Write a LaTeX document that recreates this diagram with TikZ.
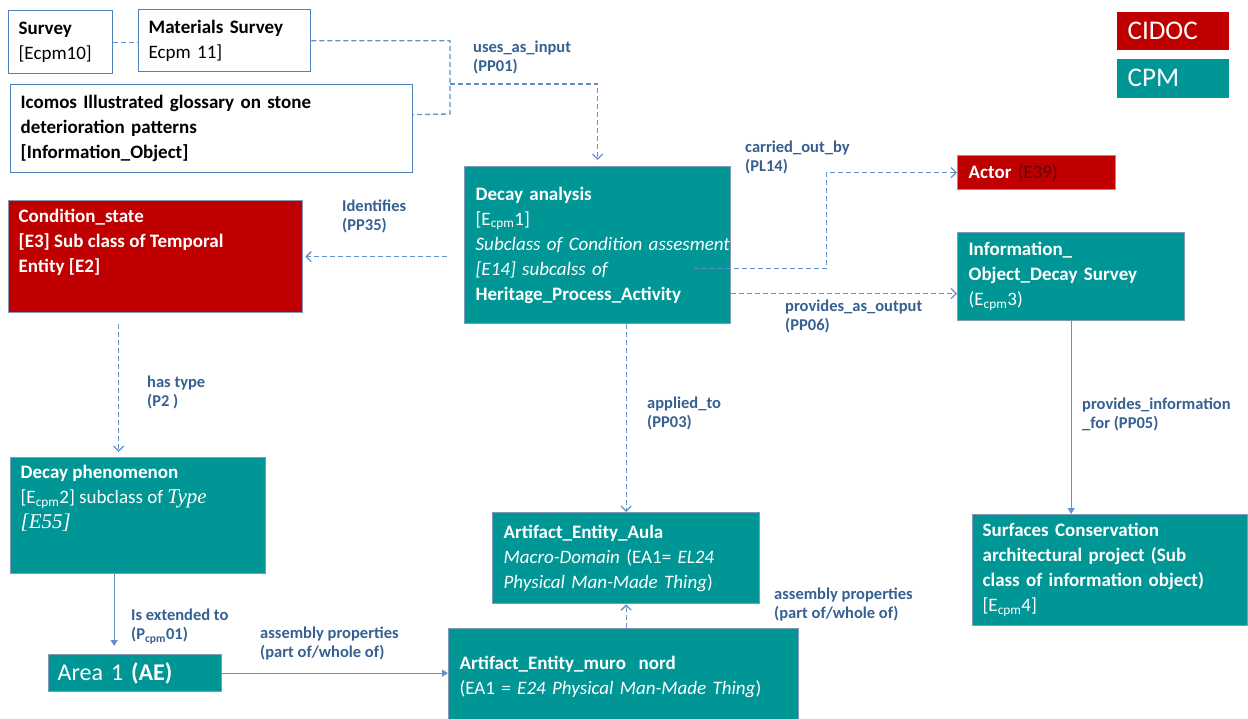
\documentclass[tikz,border=0pt]{standalone}
\usepackage{fontspec}
\setmainfont{Carlito}
\newfontfamily\timesfont{Liberation Serif}
\usepackage{tikz}
\usetikzlibrary{arrows.meta,positioning,calc}
\definecolor{cpmteal}{RGB}{0,150,150}
\definecolor{cidocred}{RGB}{192,0,0}
\definecolor{edgegray}{RGB}{130,152,182}
\definecolor{boxblue}{RGB}{79,129,189}
\definecolor{linkblue}{RGB}{100,145,200}
\definecolor{labelblue}{RGB}{54,96,146}
\definecolor{actorcode}{RGB}{100,0,0}
\newcommand{\bodyfont}{\fontsize{19}{25}\selectfont}
\newcommand{\lblfont}{\fontsize{16.5}{19}\selectfont\bfseries}
\newcommand{\bigfont}{\fontsize{24}{29}\selectfont}
\newcommand{\cpm}{\textsubscript{cpm}}
\newcommand{\toptext}[3]{\parbox[c][#2][t]{#1}{#3}}
\tikzstyle{whitebox} = [rectangle, anchor=north west, align=left, draw=boxblue, fill=white, line width=1.3pt, inner xsep=10pt, inner ysep=4pt, font=\bodyfont]
\tikzstyle{cpmbox} = [rectangle, anchor=north west, align=left, draw=edgegray, fill=cpmteal, text=white, line width=1.3pt, inner xsep=11pt, inner ysep=4pt, font=\bodyfont]
\tikzstyle{cidocbox} = [cpmbox, fill=cidocred]
\tikzstyle{keybox} = [cpmbox, draw=none, font=\fontsize{27}{30}\selectfont]
\tikzstyle{linklabel} = [anchor=north west, align=left, inner sep=0pt, text=labelblue, font=\lblfont]
\tikzstyle{dashlink} = [draw=linkblue, line width=1.3pt, dash pattern=on 5pt off 3pt]
\tikzstyle{dasharrow} = [dashlink, -{Straight Barb[length=5pt,width=10pt]}]
\tikzstyle{solidarrow} = [draw=linkblue, line width=1.2pt, -{Triangle[length=6pt,width=7pt]}]

\begin{document}
\begin{tikzpicture}[x=1pt, y=-1pt]
\useasboundingbox (0,0) rectangle (1248,718);

% Sources
\node[whitebox, text width=84pt, minimum height=63pt] (survey) at (8,10) {\textbf{Survey}\\{[}Ecpm10]};
\node[whitebox, text width=152pt, minimum height=62pt] (matsurv) at (138,9) {\textbf{Materials Survey}\\Ecpm 11]};
\node[whitebox, text width=382pt, minimum height=88pt, font=\bodyfont\bfseries] (icomos) at (10,84) {Icomos Illustrated glossary on stone\\deterioration patterns\\{[}Information\_Object]};

% Activity
\node[cpmbox, text width=244pt, minimum height=157pt] (decay) at (464,166) {\textbf{Decay analysis}\\{[}E\cpm1]\\\mbox{\textit{Subclass of Condition assesment}}\\\textit{{[}E14] subcalss of}\\\textbf{Heritage\_Process\_Activity}};

% CIDOC entities
\node[cidocbox, inner xsep=10pt, inner ysep=8pt, font=\bodyfont\bfseries] (cond) at (8,200) {\toptext{274pt}{96pt}{Condition\_state\\{[}E3] Sub class of Temporal\\Entity {[}E2]}};
\node[cidocbox, text width=136pt, minimum height=34pt] (actor) at (957,155) {\textbf{Actor} {\color{actorcode}(E39)}};

% CPM entities
\node[cpmbox, text width=205pt, minimum height=88pt] (info) at (957,232) {\textbf{Information\_}\\\textbf{Object\_Decay Survey}\\(E\cpm3)};
\node[cpmbox, inner xsep=10pt, inner ysep=8pt] (decayphen) at (10,457) {\toptext{235pt}{100pt}{\textbf{Decay phenomenon}\\{[}E\cpm2] subclass of {\timesfont\itshape\fontsize{21}{25}\selectfont Type}\\{\timesfont\itshape\fontsize{21}{25}\selectfont {[}E55]}}};
\node[cpmbox, text width=155pt, minimum height=37pt, inner xsep=9pt, font=\bigfont] (area) at (48,654) {Area 1 \textbf{(AE)}};
\node[cpmbox, text width=245pt, minimum height=91pt] (aula) at (492,512) {\textbf{Artifact\_Entity\_Aula}\\\textit{Macro-Domain} (EA1= \textit{EL24}\\\textit{Physical Man-Made Thing})};
\node[cpmbox, text width=328pt, minimum height=96pt] (muro) at (448,628) {\textbf{Artifact\_Entity\_muro\ \ nord}\\(EA1 \textit{= E24 Physical Man-Made Thing})};
\node[cpmbox, text width=255pt, minimum height=111pt, inner xsep=10pt] (surf) at (972,514) {\textbf{Surfaces Conservation}\\\textbf{architectural project (Sub}\\\textbf{class of information object)}\\{[}E\cpm4]};

% Legend
\node[keybox, fill=cidocred, text width=90pt, minimum height=38pt] (keycidoc) at (1116,11) {CIDOC};
\node[keybox, text width=90pt, minimum height=39pt] (keycpm) at (1116,58) {CPM};

% Connectors
\coordinate (trunk) at (450,114);
\coordinate (fork) at (450,84);
\draw[dashlink] (survey.east) -- (survey.east -| matsurv.west);
\draw[dashlink] (matsurv.east) -| (trunk) -- ([yshift=14pt]icomos.east);
\draw[dasharrow, shorten >=6pt] (fork) -| (decay.north);
\draw[dasharrow, shorten >=2pt] ([xshift=-17pt]decay.west |- cond.east) -- (cond.east);
\draw[dasharrow] ([shift={(-37pt,-23.5pt)}]decay.east) -- ++(132,0) |- (actor.west);
\draw[dasharrow] ([yshift=-48.5pt]decay.east) -- ([yshift=-48.5pt]decay.east -| info.west);
\draw[dasharrow] (decay.south -| aula.north) -- (aula.north);
\draw[dasharrow, shorten >=5pt] ([shift={(-37pt,-11pt)}]cond.south) -- ([xshift=-37pt]cond.south |- decayphen.north);
\draw[solidarrow] (info.south) -- (info.south |- surf.north);
\draw[solidarrow, shorten >=8pt] ([xshift=-24pt]decayphen.south) -- ([xshift=-24pt]decayphen.south |- area.north);
\draw[solidarrow] (area.east) -- (area.east -| muro.west);
\draw[dasharrow] (aula.south |- muro.north) -- (aula.south);

% Labels
\node[linklabel] (lbuses) at (473,41) {uses\_as\_input\\(PP01)};
\node[linklabel] (lbident) at (342,200) {Identifies\\(PP35)};
\node[linklabel] (lbcarried) at (745,141) {carried\_out\_by\\(PL14)};
\node[linklabel] (lboutput) at (785,300) {provides\_as\_output\\(PP06)};
\node[linklabel] (lbapplied) at (647,397) {applied\_to\\(PP03)};
\node[linklabel] (lbtype) at (147,376) {has type\\(P2 )};
\node[linklabel] (lbinfo) at (1082,398) {provides\_information\\\_for (PP05)};
\node[linklabel] (lbext) at (131,609) {Is extended to\\(P\cpm01)};
\node[linklabel] (lbasm) at (260,627) {assembly properties\\(part of/whole of)};
\node[linklabel] (lbasmb) at (774,588) {assembly properties\\(part of/whole of)};
\end{tikzpicture}
\end{document}
